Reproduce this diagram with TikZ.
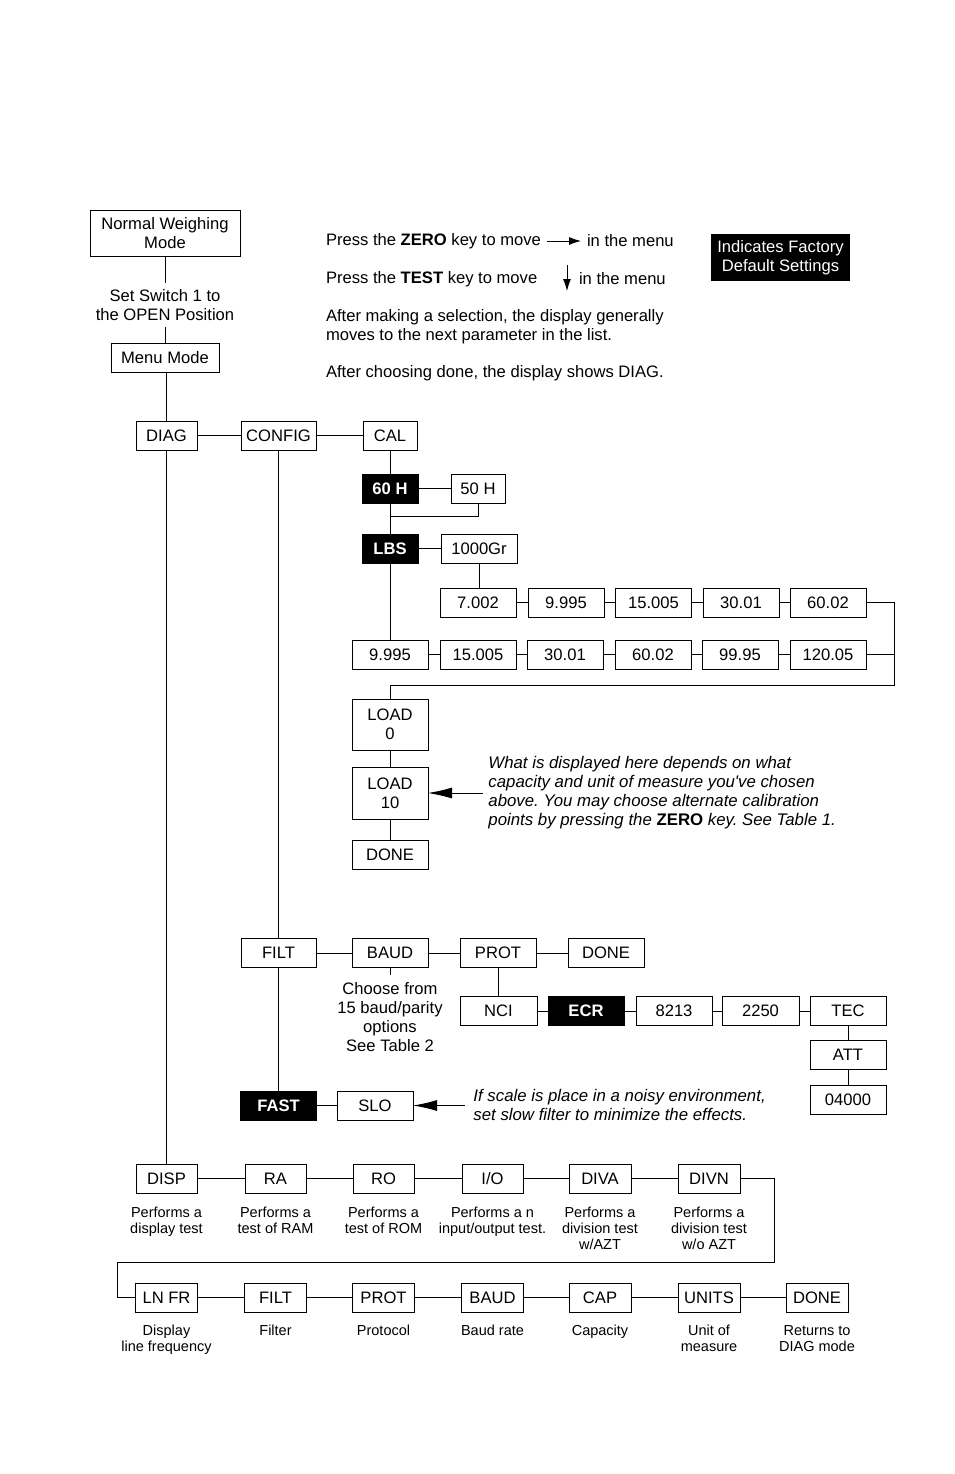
\documentclass[tikz,border=0pt]{standalone}
\usepackage{fontspec}
\setmainfont{Liberation Sans}
\usetikzlibrary{arrows.meta}
\frenchspacing
\begin{document}
\begin{tikzpicture}[x=1pt,y=-1pt, line width=0.9pt,
  lbl/.style={font=\fontsize{16.6}{19}\selectfont},
  box/.style={draw, lbl, minimum width=#1, minimum height=29pt, inner sep=0pt, outer sep=0pt},
  box/.default=76pt,
  dbox/.style={box=#1, fill=black, text=white, font=\fontsize{16.6}{19}\selectfont\bfseries},
  dbox/.default=76pt,
  txt/.style={lbl, inner sep=0pt, outer sep=0pt},
  desc/.style={font=\fontsize{14.5}{16}\selectfont, align=center, inner sep=0pt, anchor=north},
  note/.style={font=\fontsize{16.8}{19}\selectfont\itshape, align=left, inner sep=0pt, anchor=north west},
  bigarrow/.style={-{Latex[length=24pt,width=11pt]}},
  smallarrow/.style={-{Latex[length=12pt,width=8pt]}}
]
\useasboundingbox (0,0) rectangle (954,1474);

% ---- top left
\node[box=150pt, minimum height=46pt, align=center] (nwm) at (165,233) {Normal Weighing\\Mode};
\node[txt, align=center, inner sep=6pt] (sw) at (165,305) {Set Switch 1 to\\the OPEN Position};
\node[box=108pt] (menu) at (165,358) {Menu Mode};
\draw (nwm) -- (sw);
\draw (sw) -- (menu);

% ---- instructions
\node[txt, anchor=west] (z1) at (326,241) {Press the \textbf{ZERO} key to move};
\node[txt, anchor=west] (z2) at (587,241) {in the menu};
\draw[smallarrow, shorten <=6pt, shorten >=6pt] (z1.east) -- (z2.west);
\node[txt, anchor=west] (t1) at (326,279) {Press the \textbf{TEST} key to move};
\node[txt, anchor=west] (t2) at (579,279) {in the menu};
\coordinate (ta) at (567,265);
\coordinate (tb) at (567,291);
\draw[smallarrow] (ta) -- (tb);
\node[txt, align=left, anchor=north west] (p1) at (326,309) {After making a selection, the display generally\\moves to the next parameter in the list.};
\node[txt, anchor=west] (p2) at (326,373) {After choosing done, the display shows DIAG.};
\node[fill=black, text=white, lbl, align=center, minimum width=139pt, minimum height=47pt, inner sep=0pt] (legend) at (780.5,257.5) {Indicates Factory\\Default Settings};

% ---- main row
\node[box=61pt] (diag) at (166.5,435.5) {DIAG};
\node[box=75pt] (config) at (278.5,435.5) {CONFIG};
\node[box=54pt] (cal) at (390,435.5) {CAL};
\draw (menu.south -| diag) -- (diag);
\draw (diag) -- (config);
\draw (config) -- (cal);

% ---- calibration
\node[dbox=56pt] (h60) at (390,488.5) {60 H};
\node[box=54pt] (h50) at (478,488.5) {50 H};
\node[dbox=56pt] (lbs) at (390,548.5) {LBS};
\node[box=76pt] (gr) at (479,548.5) {1000Gr};
\coordinate (j1) at (390,516);
\draw (cal) -- (h60);
\draw (h60) -- (h50);
\draw (h60) -- (lbs);
\draw (h50.south) |- (j1);
\draw (lbs) -- (gr);

\node[box] (r1a) at (478,602.5) {7.002};
\node[box] (r1b) at (566,602.5) {9.995};
\node[box] (r1c) at (653.5,602.5) {15.005};
\node[box] (r1d) at (741,602.5) {30.01};
\node[box] (r1e) at (828,602.5) {60.02};
\node[box] (r2a) at (390,654.5) {9.995};
\node[box] (r2b) at (478,654.5) {15.005};
\node[box] (r2c) at (565,654.5) {30.01};
\node[box] (r2d) at (653,654.5) {60.02};
\node[box] (r2e) at (740,654.5) {99.95};
\node[box] (r2f) at (828,654.5) {120.05};
\draw (gr) -- (gr |- r1a.north);
\draw (lbs) -- (r2a);
\draw (r1a) -- (r1b);
\draw (r1b) -- (r1c);
\draw (r1c) -- (r1d);
\draw (r1d) -- (r1e);
\draw (r2a) -- (r2b);
\draw (r2b) -- (r2c);
\draw (r2c) -- (r2d);
\draw (r2d) -- (r2e);
\draw (r2e) -- (r2f);

\node[box, minimum height=51pt, align=center] (load0) at (390,724.5) {LOAD\\0};
\node[box, minimum height=52pt, align=center] (load10) at (390,793) {LOAD\\10};
\node[box] (cdone) at (390,854.5) {DONE};
\coordinate (c1) at (894,685);
\draw (r1e.east) -| (c1) -| (load0.north);
\draw (r2f.east) -- (r2f.east -| c1);
\draw (load0) -- (load10);
\draw (load10) -- (cdone);
\node[note] (note1) at (488,756) {What is displayed here depends on what\\capacity and unit of measure you{\addfontfeature{Ligatures=TeXOff}'}ve chosen\\above. You may choose alternate calibration\\points by pressing the \textup{\textbf{ZERO}} key. See Table 1.};
\coordinate (n1) at (483,793);
\draw[bigarrow] (n1) -- (load10.east);

% ---- config second part
\node[box=75pt] (filt) at (278.5,953) {FILT};
\node[box] (baud) at (390,953) {BAUD};
\node[box] (prot) at (498,953) {PROT};
\node[box] (pdone) at (606,953) {DONE};
\draw (config) -- (filt);
\draw (filt) -- (baud);
\draw (baud) -- (prot);
\draw (prot) -- (pdone);
\node[txt, align=center, anchor=north, inner sep=0pt] (baudtxt) at (390,982) {Choose from\\15 baud/parity\\options\\See Table 2};
\coordinate (bt) at (390,975);
\draw (baud) -- (bt);

\node[box=77pt] (nci) at (498.5,1011) {NCI};
\node[dbox] (ecr) at (586,1011) {ECR};
\node[box] (p8213) at (674,1011) {8213};
\node[box=77pt] (p2250) at (760.5,1011) {2250};
\node[box] (tec) at (848,1011) {TEC};
\node[box] (att) at (848,1055) {ATT};
\node[box] (p4000) at (848,1099.5) {04000};
\draw (prot) -- (prot |- nci.north);
\draw (nci) -- (ecr);
\draw (ecr) -- (p8213);
\draw (p8213) -- (p2250);
\draw (p2250) -- (tec);
\draw (tec) -- (att);
\draw (att) -- (p4000);

\node[dbox] (fast) at (278.5,1105.5) {FAST};
\node[box] (slo) at (375,1105.5) {SLO};
\draw (filt) -- (fast);
\draw (fast) -- (slo);
\node[note] (note2) at (473,1089) {If scale is place in a noisy environment,\\set slow filter to minimize the effects.};
\coordinate (n2) at (465,1105.5);
\draw[bigarrow] (n2) -- (slo.east);

% ---- DIAG rows
\node[box=61pt] (disp) at (166.5,1178.5) {DISP};
\node[box=61pt] (ra) at (275.5,1178.5) {RA};
\node[box=61pt] (ro) at (383.5,1178.5) {RO};
\node[box=61pt] (io) at (492.5,1178.5) {I/O};
\node[box=62pt] (diva) at (600,1178.5) {DIVA};
\node[box=62pt] (divn) at (709,1178.5) {DIVN};
\draw (diag) -- (disp);
\draw (disp) -- (ra);
\draw (ra) -- (ro);
\draw (ro) -- (io);
\draw (io) -- (diva);
\draw (diva) -- (divn);

\node[desc] (d1) at (166.5,1207) {Performs a\\display test};
\node[desc] (d2) at (275.5,1207) {Performs a\\test of RAM};
\node[desc] (d3) at (383.5,1207) {Performs a\\test of ROM};
\node[desc] (d4) at (492.5,1207) {Performs a n\\input/output test.};
\node[desc] (d5) at (600,1207) {Performs a\\division test\\w/AZT};
\node[desc] (d6) at (709,1207) {Performs a\\division test\\w/o AZT};

\node[box=62pt] (lnfr) at (166.5,1297.5) {LN FR};
\node[box=62pt] (bfilt) at (275.5,1297.5) {FILT};
\node[box=62pt] (bprot) at (383.5,1297.5) {PROT};
\node[box=62pt] (bbaud) at (492.5,1297.5) {BAUD};
\node[box=62pt] (bcap) at (600,1297.5) {CAP};
\node[box=62pt] (bunits) at (709,1297.5) {UNITS};
\node[box=62pt] (bdone) at (817,1297.5) {DONE};
\coordinate (c2) at (774,1262);
\coordinate (c3) at (117,1262);
\draw (divn.east) -| (c2) -- (c3) |- (lnfr.west);
\draw (lnfr) -- (bfilt);
\draw (bfilt) -- (bprot);
\draw (bprot) -- (bbaud);
\draw (bbaud) -- (bcap);
\draw (bcap) -- (bunits);
\draw (bunits) -- (bdone);

\node[desc] (e1) at (166.5,1325) {Display\\line frequency};
\node[desc] (e2) at (275.5,1325) {Filter};
\node[desc] (e3) at (383.5,1325) {Protocol};
\node[desc] (e4) at (492.5,1325) {Baud rate};
\node[desc] (e5) at (600,1325) {Capacity};
\node[desc] (e6) at (709,1325) {Unit of\\measure};
\node[desc] (e7) at (817,1325) {Returns to\\DIAG mode};
\end{tikzpicture}
\end{document}
